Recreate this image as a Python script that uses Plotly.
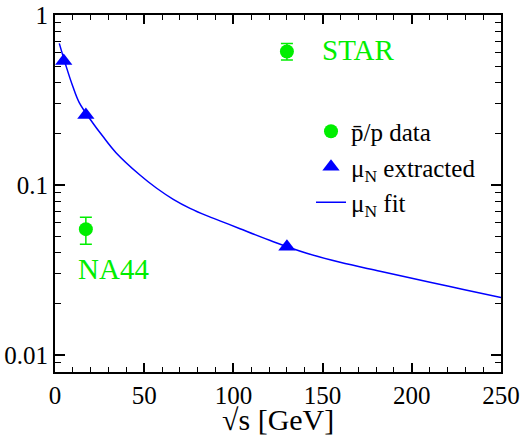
import plotly.graph_objects as go

# Data
data_sqrt_s = [17.3, 130.0]
data_ratio = [0.055, 0.61]
data_err_plus = [0.0095, 0.07]
data_err_minus = [0.0102, 0.066]

mu_sqrt_s = [4.9, 17.3, 130.0]
mu_vals = [0.537, 0.258, 0.0434]

fit_sqrt_s = [2.4, 6.2, 9.9, 13.6, 21.1, 26.7, 34.2, 47.6, 57.0, 66.3, 75.7, 85.0,
              94.3, 103.7, 122.4, 141.1, 159.8, 182.2, 210.2, 228.9, 250.0]
fit_vals = [0.681, 0.501, 0.382, 0.305, 0.2325, 0.194, 0.155, 0.1145, 0.0957, 0.0824,
            0.0729, 0.0660, 0.0605, 0.0553, 0.0464, 0.0397, 0.0351, 0.0311, 0.0268,
            0.0243, 0.0218]

x_ticks = [0, 50, 100, 150, 200, 250]
y_ticks = [0.01, 0.1, 1]
y_tick_text = ["0.01", "0.1", "1"]
x_title = "√s [GeV]"

GREEN = "#00ee00"
BLUE = "#0000ff"
FONT = "Liberation Serif, Times New Roman, serif"

fig = go.Figure()
fig.add_trace(go.Scatter(
    x=data_sqrt_s, y=data_ratio, mode="markers", name="p̄/p data",
    marker=dict(symbol="circle", size=14, color=GREEN),
    error_y=dict(type="data", symmetric=False, array=data_err_plus,
                 arrayminus=data_err_minus, color=GREEN, thickness=1.5, width=6),
))
fig.add_trace(go.Scatter(
    x=mu_sqrt_s, y=mu_vals, mode="markers", name="μ<sub>N</sub> extracted",
    marker=dict(symbol="triangle-up", size=15, color=BLUE),
))
fig.add_trace(go.Scatter(
    x=fit_sqrt_s, y=fit_vals, mode="lines", name="μ<sub>N</sub> fit",
    line=dict(color=BLUE, width=1.5, shape="spline", smoothing=1.0),
))

fig.add_annotation(x=170, y=-0.206, text="STAR", showarrow=False,
                   font=dict(color=GREEN, size=29, family=FONT))
fig.add_annotation(x=33, y=-1.494, text="NA44", showarrow=False,
                   font=dict(color=GREEN, size=29, family=FONT))
# x-axis title
fig.add_annotation(xref="paper", yref="paper", x=0.499, y=-0.134, text=x_title,
                   showarrow=False, xanchor="center", yanchor="middle",
                   font=dict(color="black", size=30, family=FONT))

minor_y = [v * m for v in (0.001, 0.01, 0.1) for m in range(2, 10)]

fig.update_layout(
    width=530, height=436,
    margin=dict(l=55, r=29, t=15, b=64),
    paper_bgcolor="white", plot_bgcolor="white",
    font=dict(family=FONT, size=25, color="black"),
    showlegend=True,
    legend=dict(x=0.574, y=0.738, xanchor="left", yanchor="top",
                bgcolor="rgba(0,0,0,0)", font=dict(size=25, family=FONT),
                tracegroupgap=0, itemwidth=30),
    xaxis=dict(range=[0, 250], tickvals=x_ticks, ticks="inside", ticklen=9,
               tickwidth=1.5, tickcolor="black", showline=True, linecolor="black",
               linewidth=2, mirror="ticks", showgrid=False, zeroline=False,
               automargin=False, ticklabeloverflow="allow",
               minor=dict(ticks="inside", ticklen=5, dtick=10, tickcolor="black",
                          tickwidth=1.2, showgrid=False),
               tickfont=dict(size=25, family=FONT)),
    yaxis=dict(type="log", range=[-2.1, 0], tickvals=y_ticks, ticktext=y_tick_text,
               ticks="inside", ticklen=10, tickwidth=1.5, tickcolor="black",
               showline=True, linecolor="black", linewidth=2, mirror="ticks",
               showgrid=False, zeroline=False, automargin=False,
               ticklabeloverflow="allow",
               minor=dict(ticks="inside", ticklen=6, tickvals=minor_y,
                          tickcolor="black", tickwidth=1.2, showgrid=False),
               tickfont=dict(size=25, family=FONT)),
)

fig.write_html("out.html", config={"displayModeBar": False},
               post_script="document.body.style.margin='0';document.body.style.overflow='hidden';")
